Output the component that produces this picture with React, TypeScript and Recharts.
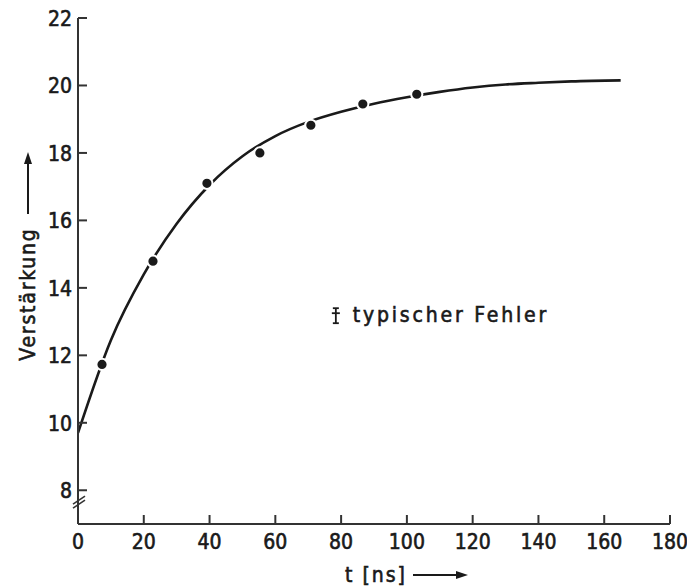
import React from "react";
import {
  ComposedChart,
  Line,
  Scatter,
  XAxis,
  YAxis,
  ReferenceDot,
} from "recharts";

// fitted curve
const curveT = [0, 10, 20, 30, 40, 50, 60, 70, 80, 90, 100, 110, 120, 130, 140, 150, 165];
const curveGain = [9.7, 12.45, 14.4, 15.9, 17.05, 17.9, 18.5, 18.92, 19.22, 19.46, 19.65, 19.81, 19.94, 20.03, 20.08, 20.12, 20.15];

// measured points
const measT = [7.3, 22.8, 39.2, 55.3, 70.8, 86.6, 103];
const measGain = [11.73, 14.79, 17.1, 18.0, 18.82, 19.45, 19.74];

const xTicks = [0, 20, 40, 60, 80, 100, 120, 140, 160, 180];
const yTicks = [8, 10, 12, 14, 16, 18, 20, 22];

const curveData = curveT.map((t, i) => ({ t, gain: curveGain[i] }));
const pointData = measT.map((t, i) => ({ t, gain: measGain[i] }));

const FONT = "'DejaVu Sans Condensed', 'DejaVu Sans', sans-serif";
const INK = "#1a1a1a";
const AXIS = "#333";
const TICK_LEN = 9;
const Y_MARGIN = 6;
const X_MARGIN = 10;

// slightly heavier lettering, like the printed figure
const txt = {
  fontFamily: FONT,
  fill: INK,
  stroke: INK,
  strokeWidth: 0.6,
};

const LeftTick = (props: any) => {
  const { x, y, payload } = props;
  const ax = x + Y_MARGIN;
  return (
    <g>
      <line x1={ax} x2={ax + TICK_LEN} y1={y} y2={y} stroke={AXIS} strokeWidth={2} />
      <text x={x} y={y} dy={8} textAnchor="end" fontSize={21} {...txt}>
        {payload.value}
      </text>
    </g>
  );
};

const BottomTick = (props: any) => {
  const { x, y, payload } = props;
  const ay = y - X_MARGIN;
  return (
    <g>
      <line x1={x} x2={x} y1={ay} y2={ay - TICK_LEN} stroke={AXIS} strokeWidth={2} />
      <text x={x} y={y} dy={15} textAnchor="middle" fontSize={21} {...txt}>
        {payload.value}
      </text>
    </g>
  );
};

const TopTick = (props: any) => {
  const { x, y } = props;
  return <line x1={x} x2={x} y1={y} y2={y + TICK_LEN} stroke={AXIS} strokeWidth={2} />;
};

const RightTick = (props: any) => {
  const { x, y } = props;
  return <line x1={x - TICK_LEN} x2={x} y1={y} y2={y} stroke={AXIS} strokeWidth={2} />;
};

const BreakMark = (props: any) => {
  const { cx, cy } = props;
  return (
    <g stroke={AXIS} strokeWidth={1.6}>
      <line x1={cx - 5} y1={cy + 6} x2={cx + 7} y2={cy - 2} />
      <line x1={cx - 5} y1={cy + 2} x2={cx + 7} y2={cy - 6} />
    </g>
  );
};

const ErrorLegend = (props: any) => {
  const { cx, cy } = props;
  return (
    <g>
      <g stroke={INK} strokeWidth={1.8}>
        <line x1={cx} x2={cx} y1={cy - 7} y2={cy + 8} />
        <line x1={cx - 3} x2={cx + 3} y1={cy - 7} y2={cy - 7} />
        <line x1={cx - 4} x2={cx + 4} y1={cy - 2} y2={cy - 2} />
        <line x1={cx - 3} x2={cx + 3} y1={cy + 8} y2={cy + 8} />
      </g>
      <text x={cx + 17} y={cy + 7} fontSize={21} letterSpacing={2.8} {...txt}>
        typischer Fehler
      </text>
    </g>
  );
};

const XLabel = () => (
  <g>
    <text x={345} y={582} fontSize={21} letterSpacing={2} {...txt}>
      t [ns]
    </text>
    <line x1={413} x2={458} y1={575} y2={575} stroke={INK} strokeWidth={2} />
    <polygon points="456,571 468,575 456,579" fill={INK} />
  </g>
);

const YLabel = () => (
  <g>
    <text
      x={28}
      y={294}
      dy={7}
      transform="rotate(-90 28 294)"
      textAnchor="middle"
      fontSize={21}
      letterSpacing={1.8}
      {...txt}
    >
      Verstärkung
    </text>
    <line x1={28} x2={28} y1={214} y2={162} stroke={INK} strokeWidth={2} />
    <polygon points="24,164 28,152 32,164" fill={INK} />
  </g>
);

export default function App() {
  return (
    <div style={{ position: "absolute", left: 0, top: 0, background: "#fff" }}>
      <ComposedChart
        width={687}
        height={587}
        margin={{ top: 18, right: 17, bottom: 33, left: 18 }}
      >
        <XAxis
          xAxisId="b"
          dataKey="t"
          type="number"
          domain={[0, 180]}
          ticks={xTicks}
          allowDataOverflow
          height={30}
          tickSize={0}
          tickMargin={X_MARGIN}
          tickLine={false}
          tick={<BottomTick />}
          axisLine={{ stroke: AXIS, strokeWidth: 2 }}
          interval={0}
          label={{ content: () => <XLabel /> }}
        />
        <XAxis
          xAxisId="t"
          orientation="top"
          dataKey="t"
          type="number"
          domain={[0, 180]}
          ticks={xTicks}
          height={0}
          tickSize={0}
          tickMargin={0}
          tickLine={false}
          tick={<TopTick />}
          axisLine={{ stroke: AXIS, strokeWidth: 2 }}
          interval={0}
        />
        <YAxis
          yAxisId="l"
          type="number"
          domain={[7, 22]}
          ticks={yTicks}
          allowDataOverflow
          width={60}
          tickSize={0}
          tickMargin={Y_MARGIN}
          tickLine={false}
          tick={<LeftTick />}
          axisLine={{ stroke: AXIS, strokeWidth: 2 }}
          interval={0}
          label={{ content: () => <YLabel /> }}
        />
        <YAxis
          yAxisId="r"
          orientation="right"
          type="number"
          domain={[7, 22]}
          ticks={yTicks}
          width={0}
          tickSize={0}
          tickMargin={0}
          tickLine={false}
          tick={<RightTick />}
          axisLine={{ stroke: AXIS, strokeWidth: 2 }}
          interval={0}
        />
        <Line
          xAxisId="b"
          yAxisId="l"
          data={curveData}
          dataKey="gain"
          type="monotone"
          stroke={INK}
          strokeWidth={2.6}
          dot={false}
          activeDot={false}
          isAnimationActive={false}
        />
        <Scatter
          xAxisId="b"
          yAxisId="l"
          data={pointData}
          dataKey="gain"
          fill={INK}
          shape={(p: any) => (
            <circle cx={p.cx} cy={p.cy} r={5.6} fill={INK} stroke="#fff" strokeWidth={2} />
          )}
          isAnimationActive={false}
        />
        <ReferenceDot
          xAxisId="b"
          yAxisId="l"
          x={0}
          y={7.65}
          r={0}
          ifOverflow="visible"
          shape={<BreakMark />}
        />
        <ReferenceDot
          xAxisId="b"
          yAxisId="l"
          x={78.4}
          y={13.19}
          r={0}
          ifOverflow="visible"
          shape={<ErrorLegend />}
        />
      </ComposedChart>
    </div>
  );
}
